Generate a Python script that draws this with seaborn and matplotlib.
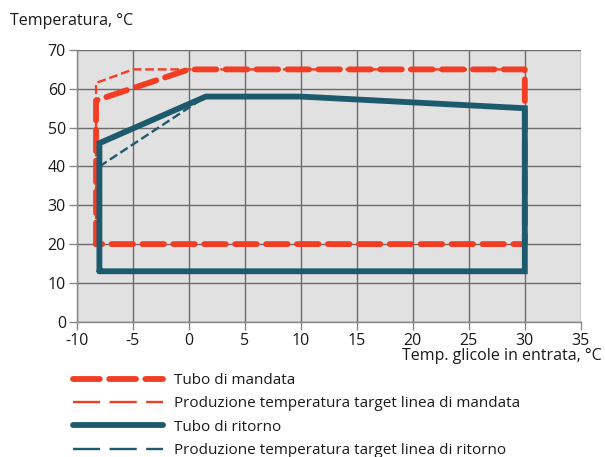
import matplotlib
matplotlib.use("Agg")
import matplotlib.pyplot as plt
from matplotlib.lines import Line2D
import seaborn as sns
import pandas as pd

# Operating envelope outlines (glycol inlet temperature, water temperature)
mandata_x = [-8.3, -8.3, 0.0, 30.0, 30.0, -8.3]
mandata_y = [20.0, 57.0, 65.0, 65.0, 20.0, 20.0]

target_mandata_x = [-8.3, -8.3, -5.0, 30.0]
target_mandata_y = [20.0, 61.5, 65.0, 65.0]

ritorno_x = [-8.0, -8.0, 1.5, 10.0, 30.0, 30.0, -8.0]
ritorno_y = [13.0, 46.0, 58.0, 58.0, 55.0, 13.0, 13.0]

target_ritorno_x = [-8.0, 1.5]
target_ritorno_y = [40.0, 58.0]

x_ticks = [-10, -5, 0, 5, 10, 15, 20, 25, 30, 35]
y_ticks = [0, 10, 20, 30, 40, 50, 60, 70]

labels = [
    "Tubo di mandata",
    "Produzione temperatura target linea di mandata",
    "Tubo di ritorno",
    "Produzione temperatura target linea di ritorno",
]

RED = "#f23d25"
BLUE = "#1e5a6d"
THICK = 4.2
THIN = 1.7

sns.set_theme(style="white")
plt.rcParams["font.family"] = ["Open Sans", "DejaVu Sans"]

fig = plt.figure(figsize=(6.05, 4.57), dpi=100)
ax = fig.add_axes([0.1273, 0.296, 0.8327, 0.5946])
ax.set_facecolor("#e1e1e1")

styles = [
    (target_mandata_x, target_mandata_y, RED, THIN, (8, 5), "butt"),
    (mandata_x, mandata_y, RED, THICK, (4.2, 2.8), "round"),
    (target_ritorno_x, target_ritorno_y, BLUE, THIN, (8, 5), "butt"),
    (ritorno_x, ritorno_y, BLUE, THICK, None, "round"),
]
for xs, ys, color, lw, dash, cap in styles:
    df = pd.DataFrame({"x": xs, "y": ys})
    line_kw = dict(color=color, linewidth=lw, solid_capstyle=cap,
                   dash_capstyle=cap, solid_joinstyle="miter")
    if dash is not None:
        line_kw["dashes"] = dash
        line_kw["linestyle"] = "--"
    sns.lineplot(data=df, x="x", y="y", sort=False, estimator=None, ax=ax,
                 **line_kw)

ax.set_xlim(-10, 35)
ax.set_ylim(0, 70)
ax.set_xticks(x_ticks)
ax.set_yticks(y_ticks)
ax.set_xticklabels([str(t) for t in x_ticks])
ax.grid(True, color="#6b6b6b", linewidth=1.0)
ax.set_axisbelow(True)
for side in ("top", "right"):
    ax.spines[side].set_visible(False)
for side in ("left", "bottom"):
    ax.spines[side].set_color("#888888")
    ax.spines[side].set_linewidth(1.0)
ax.tick_params(axis="both", which="both", length=6, width=1.0, color="#888888",
               labelsize=11.5, labelcolor="#1a1a1a", pad=2,
               left=True, bottom=True)
ax.set_xlabel("")
ax.set_ylabel("")

fig.text(0.017, 0.955, "Temperatura, °C", fontsize=11.5, color="#1a1a1a",
         ha="left", va="center")
fig.text(0.995, 0.220, "Temp. glicole in entrata, °C", fontsize=11.5,
         color="#1a1a1a", ha="right", va="center")

handles = [
    Line2D([], [], color=RED, linewidth=THICK, linestyle="--", dashes=(4.6, 1.6),
           dash_capstyle="round"),
    Line2D([], [], color=RED, linewidth=THIN, linestyle="--", dashes=(11.5, 4)),
    Line2D([], [], color=BLUE, linewidth=THICK, solid_capstyle="round"),
    Line2D([], [], color=BLUE, linewidth=THIN, linestyle="--", dashes=(11.5, 4)),
]
fig.legend(handles, labels, loc="upper left", bbox_to_anchor=(0.12, 0.184),
           frameon=False, fontsize=11, handlelength=5.9, handletextpad=0.75,
           labelspacing=0.55, borderaxespad=0, borderpad=0, labelcolor="#1a1a1a")

fig.savefig("out.png", dpi=100)
